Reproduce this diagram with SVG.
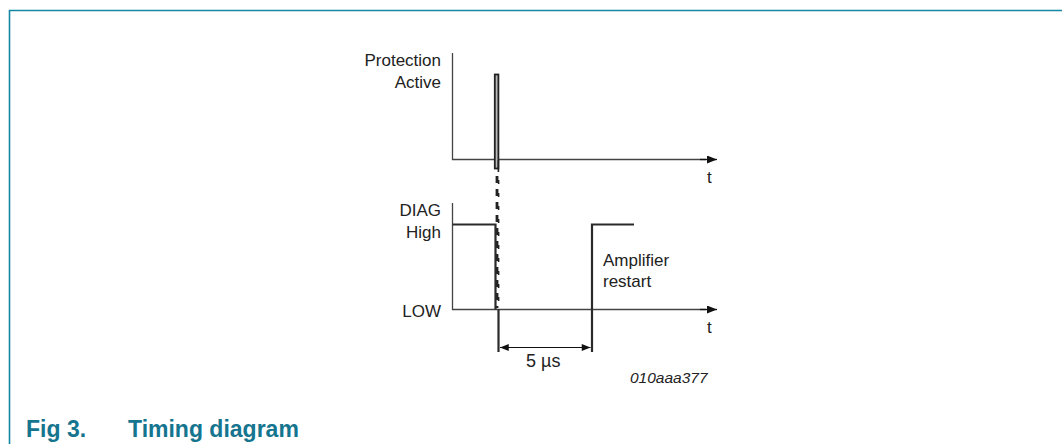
<svg xmlns="http://www.w3.org/2000/svg" width="1062" height="444" viewBox="0 0 1062 444">
<defs>
<marker id="ah" viewBox="0 0 10 8" refX="10" refY="4" markerWidth="10" markerHeight="8" markerUnits="userSpaceOnUse" orient="auto"><path d="M0,0 L10,4 L0,8 Z" fill="#111"/></marker>
<marker id="dh" viewBox="0 0 10 8" refX="10" refY="4" markerWidth="11" markerHeight="7" markerUnits="userSpaceOnUse" orient="auto-start-reverse"><path d="M0,0 L10,4 L0,8 Z" fill="#111"/></marker>
</defs>
<style>
.lbl{font-family:"Liberation Sans",Arial,sans-serif;font-size:17px;fill:#222}
.r{text-anchor:end}
.ax{stroke:#444;stroke-width:1.3;fill:none}
.sig{stroke:#2a2a2a;stroke-width:2.2;fill:none}
.cap{font-family:"Liberation Sans",Arial,sans-serif;font-size:23px;font-weight:bold;fill:#15758f}
</style>
<rect width="1062" height="444" fill="#fff"/>
<g id="frame"><path d="M9.5,444 V10.5 H1062" fill="none" stroke="#1487a5" stroke-width="1.6"/></g>
<g id="axes">
<path class="ax" d="M452.5,53 V159.5 H706" />
<line x1="700" y1="159.5" x2="717" y2="159.5" stroke="#111" stroke-width="1.3" marker-end="url(#ah)"/>
<path class="ax" d="M452.5,203 V309.5 H706" />
<line x1="700" y1="309.5" x2="717" y2="309.5" stroke="#111" stroke-width="1.3" marker-end="url(#ah)"/>
</g>
<g id="protection-pulse">
<rect x="494.8" y="74.5" width="3.6" height="94" fill="#bbb" stroke="#222" stroke-width="1.8"/>
<line x1="498.4" y1="160" x2="498.4" y2="172" stroke="#222" stroke-width="1.6"/>
</g>
<g id="connectors">
<line x1="497" y1="176" x2="497" y2="308" stroke="#222" stroke-width="2.8" stroke-dasharray="7,6"/>
<line x1="498.6" y1="180" x2="498.6" y2="308" stroke="#222" stroke-width="1.6" stroke-dasharray="4,9"/>
</g>
<g id="diag-signal">
<path class="sig" d="M452.5,224.5 H495.5 V309.5"/>
<line x1="498.5" y1="309" x2="498.5" y2="352" stroke="#2a2a2a" stroke-width="2.2"/>
<path class="sig" d="M592,352 V224.5 H634"/>
</g>
<g id="dimension">
<line x1="500" y1="347.5" x2="590.5" y2="347.5" stroke="#111" stroke-width="1.2" marker-start="url(#dh)" marker-end="url(#dh)"/>
<text class="lbl" x="526" y="367" style="font-size:18px">5 µs</text>
</g>
<g id="labels">
<text class="lbl r" x="441" y="66">Protection</text>
<text class="lbl r" x="441" y="88">Active</text>
<text class="lbl r" x="441" y="216">DIAG</text>
<text class="lbl r" x="441" y="238">High</text>
<text class="lbl r" x="441" y="317">LOW</text>
<text class="lbl" x="603" y="266">Amplifier</text>
<text class="lbl" x="603" y="287">restart</text>
<text class="lbl" x="707" y="183">t</text>
<text class="lbl" x="707" y="333">t</text>
<text class="lbl" x="630" y="383" style="font-style:italic;font-size:15.5px">010aaa377</text>
</g>
<g id="caption">
<text class="cap" x="26" y="437">Fig 3.</text>
<text class="cap" x="128" y="437">Timing diagram</text>
</g>
</svg>
